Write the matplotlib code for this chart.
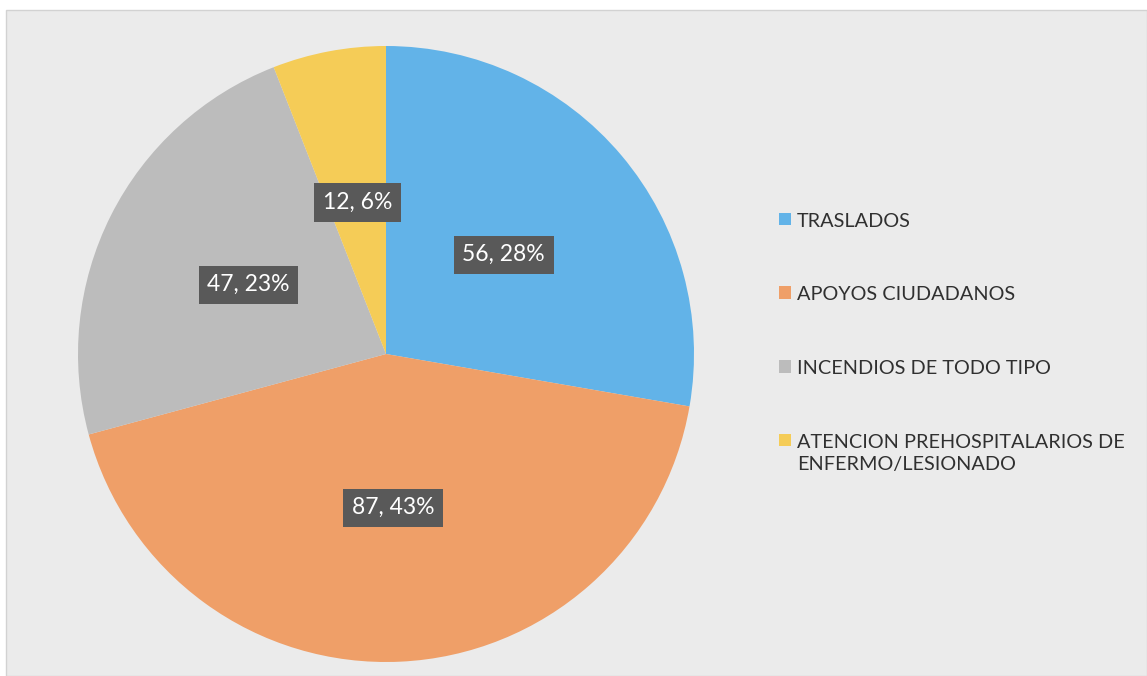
import matplotlib
matplotlib.use("Agg")
import matplotlib.pyplot as plt
from matplotlib.patches import Rectangle

categories = ["TRASLADOS", "APOYOS CIUDADANOS", "INCENDIOS DE TODO TIPO",
              "ATENCION PREHOSPITALARIOS DE\nENFERMO/LESIONADO"]
values = [56, 87, 47, 12]
colors = ["#62b3e8", "#ef9f68", "#bcbcbc", "#f5cc57"]

plt.rcParams['font.family'] = ['Lato', 'DejaVu Sans']

fig = plt.figure(figsize=(11.47, 6.76), dpi=100)
fig.patch.set_facecolor("white")
bg = Rectangle((6/1147, 0), 1 - 6/1147, 1 - 10/676,
               transform=fig.transFigure, facecolor="#ebebeb",
               edgecolor="#d2d2d2", linewidth=1, zorder=-10)
fig.patches.append(bg)

ax = fig.add_axes([78/1147, 14/676, 616/1147, 616/676])
ax.set_zorder(1)
ax.set_facecolor("none")
total = sum(values)

def fmt(p):
    v = round(p * total / 100)
    return f"{v}, {p:.0f}%"

wedges, texts, autotexts = ax.pie(values, colors=colors, startangle=90,
                                  counterclock=False, autopct=fmt,
                                  pctdistance=0.5,
                                  wedgeprops=dict(linewidth=0))
for t in autotexts:
    t.set_color("white")
    t.set_fontsize(16.5)
    t.set_bbox(dict(boxstyle="square,pad=0.38", facecolor="#595959",
                    edgecolor="none"))
ax.set_xlim(-1.0, 1.0)
ax.set_ylim(-1.0, 1.0)
ax.set_aspect("equal")

leg = fig.legend(wedges, categories, loc="upper left",
                 bbox_to_anchor=(761/1147, 1 - 195/676),
                 frameon=False, fontsize=14.3, labelspacing=2.85,
                 handlelength=0.6, handleheight=0.6, handletextpad=0.3)
leg.set_zorder(2)
for t in leg.get_texts():
    t.set_color("#303030")
    t.set_linespacing(1.35)
try:
    for col in leg._legend_handle_box.get_children():
        for row in col.get_children():
            row.align = "top"
except Exception:
    pass

fig.savefig("out.png", dpi=100)
